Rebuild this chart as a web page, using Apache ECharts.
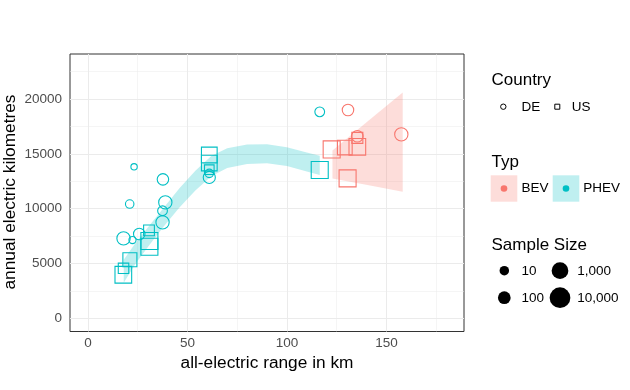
<!DOCTYPE html>
<html><head><meta charset="utf-8">
<script src="https://cdn.jsdelivr.net/npm/echarts@6/dist/echarts.min.js"></script>
<style>html,body{margin:0;padding:0;background:#fff}#c{width:630px;height:390px}</style>
</head><body><div id="c"></div>
<script>
// ---- ticks ----
const xTicks = [0, 50, 100, 150];
const yTicks = [0, 5000, 10000, 15000, 20000];
const xMinor = [25, 75, 125, 175];
const yMinor = [2500, 7500, 12500, 17500, 22500];

// ---- PHEV, Germany (circles) ----
const phevDeX = [23.2, 37.7, 21.0, 38.9, 37.5, 37.5, 25.8, 22.4, 17.9, 61.0, 61.0, 116.5];
const phevDeY = [13820, 12670, 10420, 10570, 9810, 8750, 7685, 7140, 7290, 12850, 13220, 18830];
const phevDeN = [2, 42, 6, 140, 12, 140, 42, 3, 140, 65, 6, 12];
// ---- PHEV, US (squares) ----
const phevUsX = [17.8, 17.9, 21.1, 30.9, 30.9, 30.7, 61.0, 61.0, 61.0, 116.5];
const phevUsY = [3975, 4560, 5340, 7050, 6530, 8020, 14890, 14160, 13550, 13520];
const phevUsN = [3400, 54, 600, 4200, 4200, 68, 1800, 1800, 26, 4200];
// ---- BEV, Germany (circles) ----
const bevDeX = [130.7, 157.5, 135.4];
const bevDeY = [18990, 16770, 16600];
const bevDeN = [42, 140, 42];
// ---- BEV, US (squares) ----
const bevUsX = [122.5, 129.1, 135.4, 130.5, 135.4];
const bevUsY = [15400, 15570, 15640, 12760, 16450];
const bevUsN = [4200, 950, 3400, 4200, 83];

// ---- smoothing confidence bands ----
const phevBandX = [18, 24, 31, 38, 46, 54, 62, 70, 80, 90, 100, 110, 116.5];
const phevBandLo = [3250, 5000, 6720, 8350, 10100, 11650, 12950, 13700, 14080, 14130, 13900, 13380, 13070];
const phevBandHi = [5350, 6900, 8480, 10050, 11850, 13450, 14800, 15500, 15850, 15870, 15600, 15120, 14830];
const bevBandX = [122.9, 140.5, 158.2];
const bevBandLo = [12760, 12150, 11540];
const bevBandHi = [15300, 17950, 20600];

// ---- legend content ----
const countryLabels = ['DE', 'US'];
const typLabels = ['BEV', 'PHEV'];
const sizeBreaks = [10, 100, 1000, 10000];
const sizeLabels = ['10', '100', '1,000', '10,000'];

const PHEV_C = '#00BFC4', BEV_C = '#F8766D';
const F = "'Liberation Sans', Arial, sans-serif";

function diam(n) {
  const D = [5, 9.5, 12.7, 16.7, 20.7];
  let l = Math.max(0, Math.min(4, Math.log10(n)));
  const i = Math.min(3, Math.floor(l));
  return D[i] + (D[i + 1] - D[i]) * (l - i);
}
function pts(xs, ys, ns) { return xs.map((x, i) => [x, ys[i], ns[i]]); }

function pointSeries(xs, ys, ns, color, shape) {
  return {
    type: 'scatter', z: 3, silent: true, animation: false,
    data: pts(xs, ys, ns),
    symbol: shape,
    symbolSize: v => shape === 'rect' ? 0.886 * diam(v[2]) : diam(v[2]),
    itemStyle: { color: 'rgba(0,0,0,0)', borderColor: color, borderWidth: 1.1, opacity: 1 }
  };
}
function bandSeries(bx, lo, hi, fill) {
  return {
    type: 'custom', z: 2, silent: true, animation: false,
    data: [[bx[0], lo[0]]],
    renderItem: (params, api) => {
      const p = [];
      for (let i = 0; i < bx.length; i++) p.push(api.coord([bx[i], hi[i]]));
      for (let i = bx.length - 1; i >= 0; i--) p.push(api.coord([bx[i], lo[i]]));
      return { type: 'polygon', shape: { points: p }, style: { fill: fill, stroke: null } };
    }
  };
}

const gridLines = [];
xTicks.forEach(v => gridLines.push({ xAxis: v, lineStyle: { width: 1, color: '#EBEBEB', type: 'solid' } }));
xMinor.forEach(v => gridLines.push({ xAxis: v, lineStyle: { width: 0.5, color: '#EBEBEB', type: 'solid' } }));
yTicks.forEach(v => gridLines.push({ yAxis: v, lineStyle: { width: 1, color: '#EBEBEB', type: 'solid' } }));
yMinor.forEach(v => gridLines.push({ yAxis: v, lineStyle: { width: 0.5, color: '#EBEBEB', type: 'solid' } }));

const txt = (s, x, y, fs, extra) => Object.assign({ type: 'text', x: x, y: y, silent: true,
  style: { text: s, fontSize: fs, fontFamily: F, fill: '#000', align: 'left', verticalAlign: 'middle' } }, extra || {});

const graphic = [
  { type: 'text', x: 267, y: 363.5, silent: true, style: { text: 'all-electric range in km', fontSize: 17.3, fontFamily: F, fill: '#000', align: 'center', verticalAlign: 'middle' } },
  { type: 'text', x: 10, y: 192, rotation: Math.PI / 2, silent: true, style: { text: 'annual electric kilometres', fontSize: 17.3, fontFamily: F, fill: '#000', align: 'center', verticalAlign: 'middle' } },
  txt('Country', 491.5, 80.7, 17),
  { type: 'circle', silent: true, shape: { cx: 503.3, cy: 106.7, r: 2.7 }, style: { fill: 'none', stroke: '#000', lineWidth: 1 } },
  txt(countryLabels[0], 521.5, 107, 13.5),
  { type: 'rect', silent: true, shape: { x: 554.8, y: 104.2, width: 5, height: 5 }, style: { fill: 'none', stroke: '#000', lineWidth: 1 } },
  txt(countryLabels[1], 571.7, 107, 13.5),
  txt('Typ', 491.5, 162.4, 17),
  { type: 'rect', silent: true, shape: { x: 490.7, y: 175.3, width: 26.6, height: 26.4 }, style: { fill: 'rgba(248,118,109,0.25)' } },
  { type: 'circle', silent: true, shape: { cx: 504, cy: 188.5, r: 3.3 }, style: { fill: BEV_C } },
  txt(typLabels[0], 521.5, 188.6, 13.5),
  { type: 'rect', silent: true, shape: { x: 552.7, y: 175.3, width: 26.6, height: 26.4 }, style: { fill: 'rgba(0,191,196,0.25)' } },
  { type: 'circle', silent: true, shape: { cx: 566, cy: 188.5, r: 3.3 }, style: { fill: PHEV_C } },
  txt(typLabels[1], 583.3, 188.6, 13.5),
  txt('Sample Size', 491.5, 245.8, 17)
];
const sizePos = [[504.3, 270.7], [504.3, 297.7], [560, 270.7], [560, 297.7]];
sizeBreaks.forEach((n, i) => {
  graphic.push({ type: 'circle', silent: true, shape: { cx: sizePos[i][0], cy: sizePos[i][1], r: diam(n) / 2 }, style: { fill: '#000' } });
  graphic.push(txt(sizeLabels[i], sizePos[i][0] + 17.3, sizePos[i][1] + 0.6, 13.5));
});

const chart = echarts.init(document.getElementById('c'), null, { renderer: 'canvas' });
chart.setOption({
  animation: false,
  backgroundColor: '#fff',
  grid: { left: 70, right: 166, top: 54, bottom: 58.5, show: true, backgroundColor: '#fff', borderColor: '#333', borderWidth: 1 },
  xAxis: {
    type: 'value', min: -9, max: 189,
    axisLine: { show: false }, splitLine: { show: false },
    axisTick: { show: true, length: 4, lineStyle: { color: '#333', width: 1 }, customValues: xTicks },
    axisLabel: { customValues: xTicks, formatter: v => String(v), color: '#4D4D4D', fontSize: 13.5, fontFamily: F, margin: 5 }
  },
  yAxis: {
    type: 'value', min: -1200, max: 24100,
    axisLine: { show: false }, splitLine: { show: false },
    axisTick: { show: true, length: 4, lineStyle: { color: '#333', width: 1 }, customValues: yTicks },
    axisLabel: { customValues: yTicks, formatter: v => String(v), color: '#4D4D4D', fontSize: 13.5, fontFamily: F, margin: 8 }
  },
  series: [
    { type: 'scatter', data: [], z: 1, silent: true,
      markLine: { z: 1, silent: true, animation: false, symbol: ['none', 'none'], label: { show: false },
        lineStyle: { type: 'solid', color: '#EBEBEB', width: 1 }, emphasis: { disabled: true }, data: gridLines } },
    bandSeries(phevBandX, phevBandLo, phevBandHi, 'rgba(0,191,196,0.25)'),
    bandSeries(bevBandX, bevBandLo, bevBandHi, 'rgba(248,118,109,0.25)'),
    pointSeries(phevDeX, phevDeY, phevDeN, PHEV_C, 'circle'),
    pointSeries(phevUsX, phevUsY, phevUsN, PHEV_C, 'rect'),
    pointSeries(bevDeX, bevDeY, bevDeN, BEV_C, 'circle'),
    pointSeries(bevUsX, bevUsY, bevUsN, BEV_C, 'rect')
  ],
  graphic: graphic
});
</script>
</body></html>
